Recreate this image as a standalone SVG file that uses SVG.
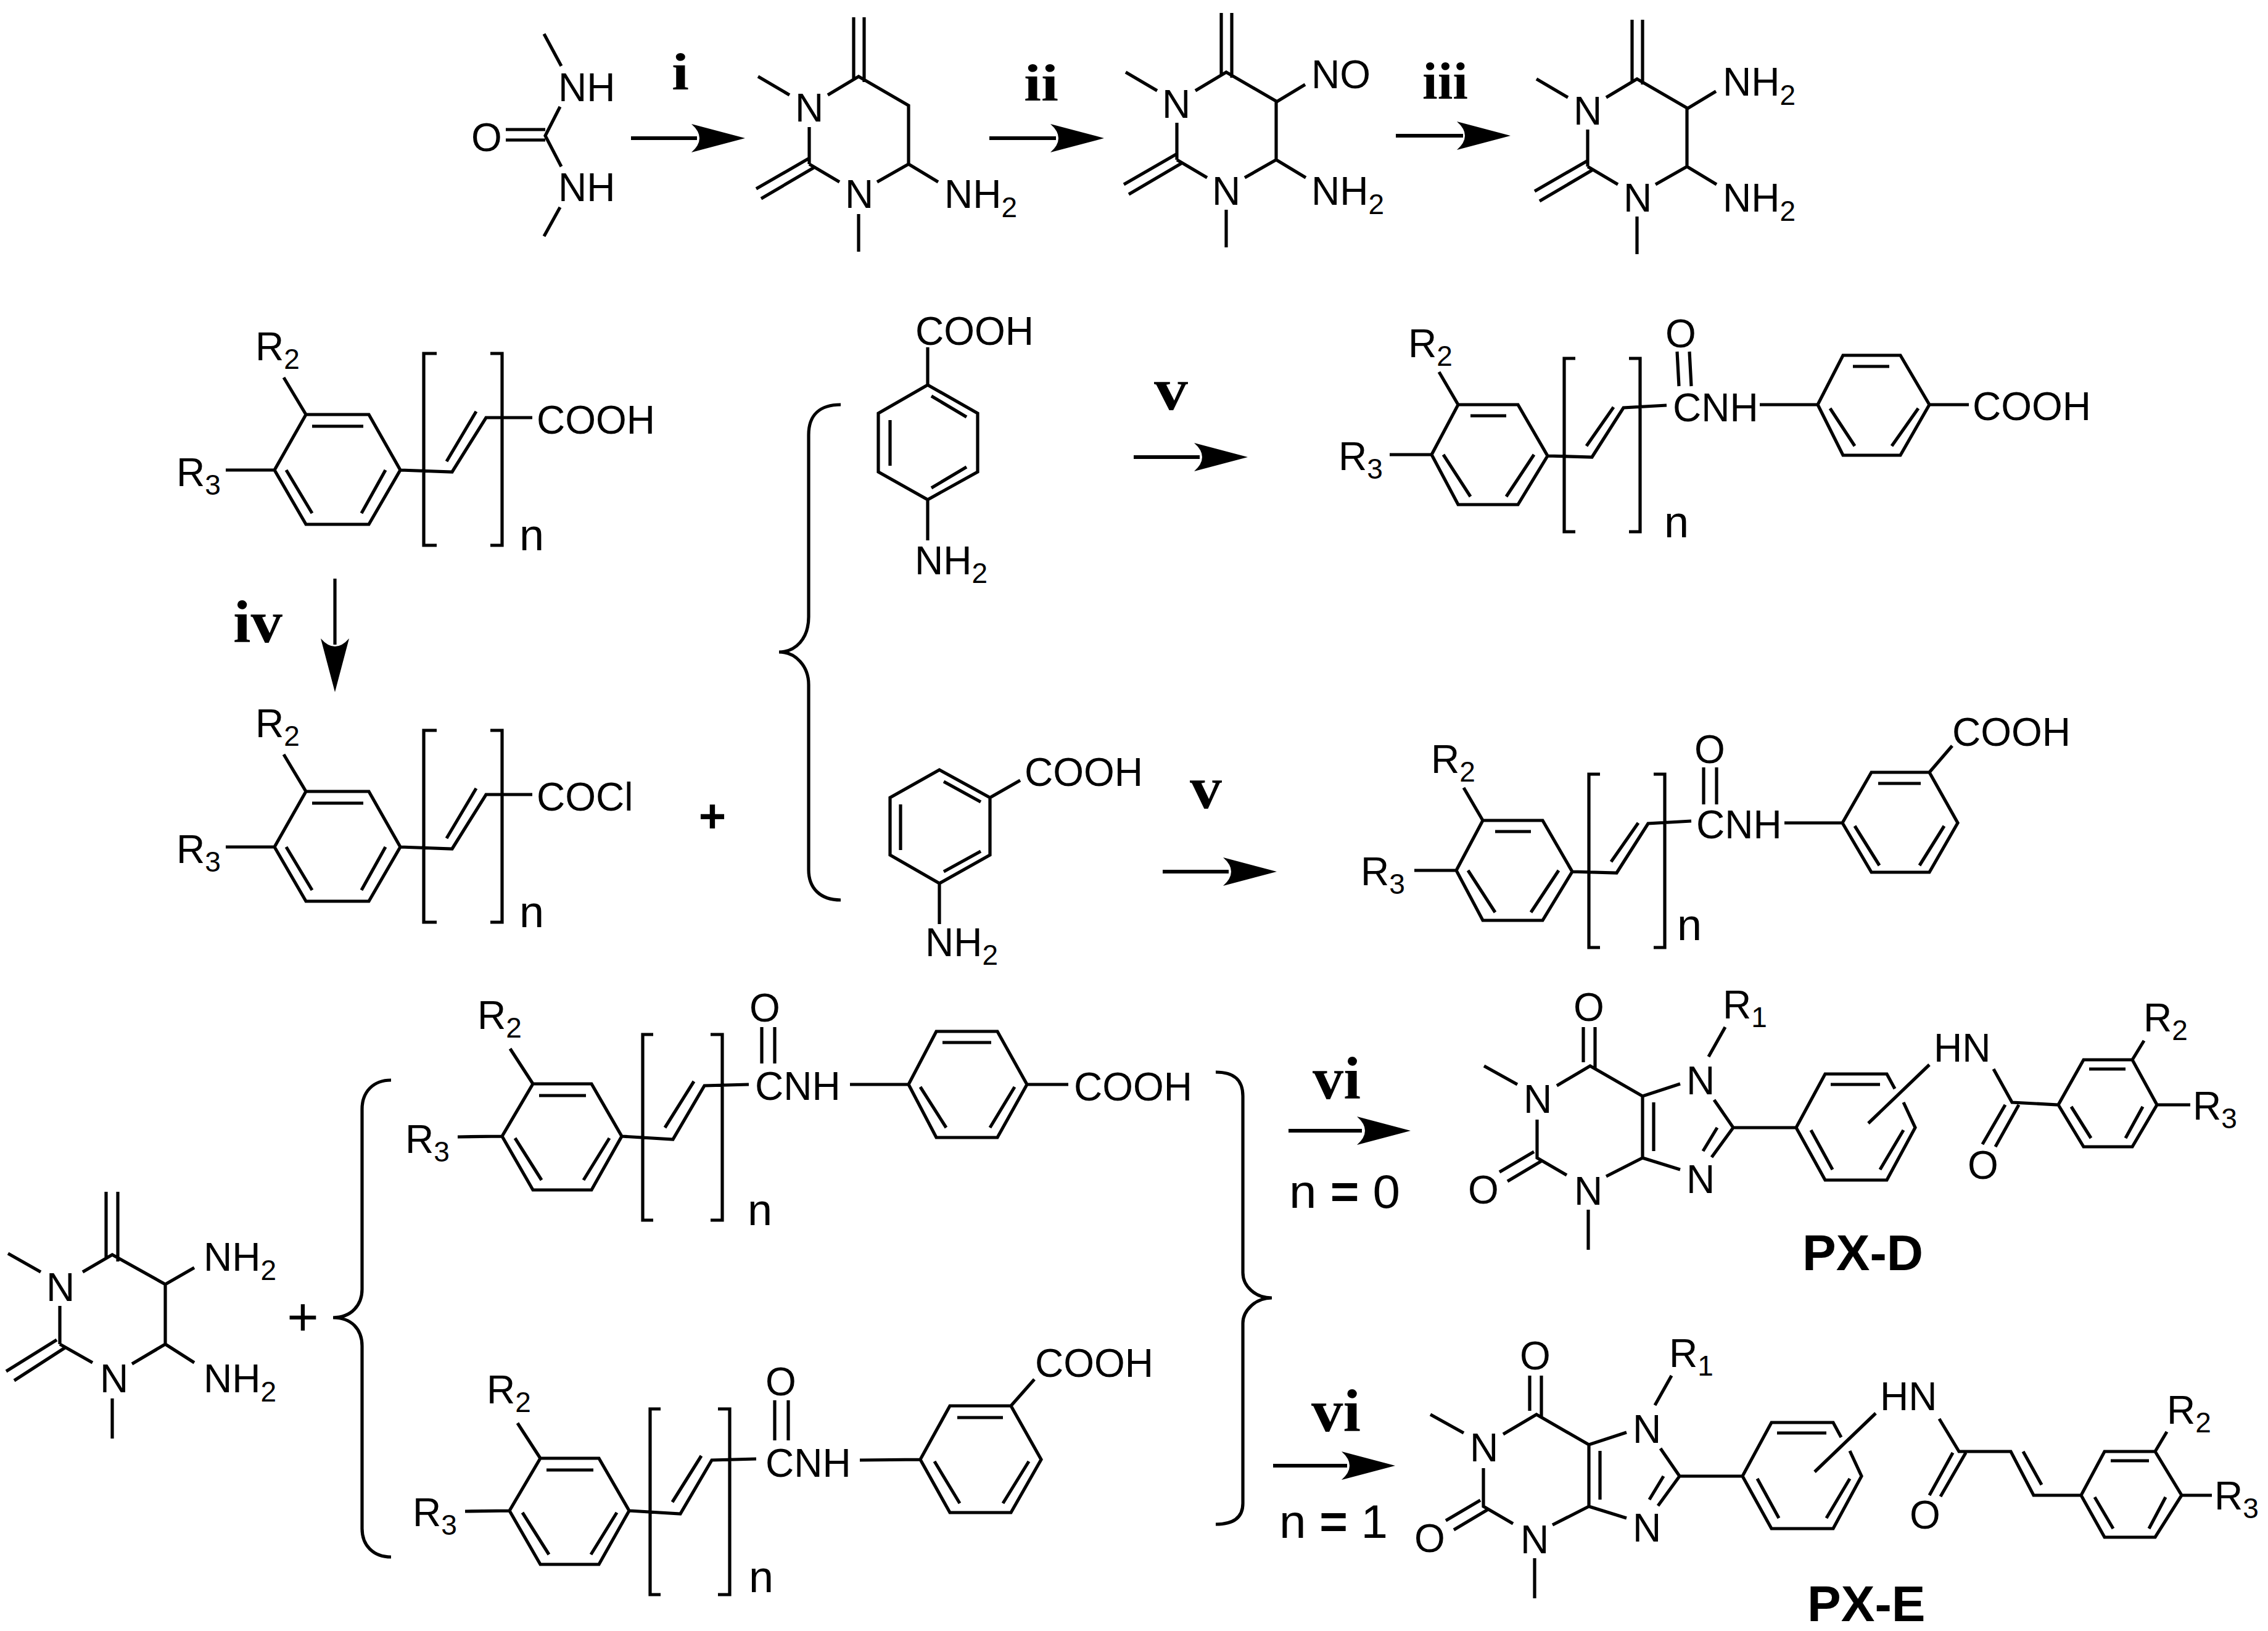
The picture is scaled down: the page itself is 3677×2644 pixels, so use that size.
<svg xmlns="http://www.w3.org/2000/svg" width="3677" height="2644" viewBox="0 0 3677 2644">
<style>
.b{fill:none;stroke:#000;stroke-width:5.2}
.sh{fill:none;stroke:#000;stroke-width:6}
.ah{fill:#000;stroke:none}
text{font-family:"Liberation Sans",Arial,sans-serif;font-size:64px;fill:#000}
.sub{font-size:46px}
.n{font-size:72px}
.nv{font-size:76px}
.r{font-family:"Liberation Serif","Times New Roman",serif;font-weight:bold;font-size:84px}
.rl{font-family:"Liberation Serif","Times New Roman",serif;font-weight:bold;font-size:98px}
.t{font-weight:bold;font-size:82px}
</style>
<defs>
<path id="ah" class="ah" d="M0 0L-87-23Q-61 0-87 23Z"/>
<path id="pyr" class="b" d="M1229 124L1280 154M1342 154L1392 124L1473 171V266L1422 295M1473 266L1521 295M1384 28V129M1401 28V133M1392 347V408M1312 266L1361 295M1312 206V266M1311 257L1226 306M1319 272L1234 322"/>
<path id="styrA" class="b" d="M496 672H598L649 762L598 850H496L445 762ZM506 691H589M464 762L506 832M625 762L586 832M460 612L496 672M366 762H445M649 762L733 765L788 677H863M724 748L772 667M708 573H687V884H708M795 573H814V884H795"/>
<path id="styrB" class="b" d="M2364 656H2461L2509 739L2461 818H2364L2321 737ZM2384 674H2442M2340 737L2384 805M2487 737L2442 805M2333 603L2364 656M2253 737H2321M2509 739L2581 741L2632 661L2702 657M2572 723L2616 660M2554 581H2536V862H2554M2641 581H2659V862H2641"/>
<path id="styrC" class="b" d="M864 1757H959L1008 1842L959 1929H864L814 1842ZM874 1776H950M835 1845L878 1913M988 1845L946 1913M827 1700L864 1757M742 1843L814 1842M1008 1842L1091 1847L1142 1760L1214 1758M1078 1828L1125 1753M1059 1677H1042V1978H1059M1152 1677H1171V1978H1152"/>
<path id="purine" class="b" d="M2406 1728L2460 1758M2524 1760L2578 1728L2663 1777L2724 1757M2567 1665V1722M2586 1665V1732M2797 1665L2770 1713M2779 1783L2810 1828L2775 1876M2784 1828L2761 1866M2724 1896L2663 1877V1777M2681 1787V1866M2663 1877L2604 1907M2540 1905L2492 1877V1815M2575 1961V2026M2487 1867L2431 1900M2501 1881L2444 1915M2810 1828H2912L2959 1741H3059L3072 1765M3086 1787L3105 1828L3059 1913H2959L2912 1828M2968 1758H3048M2936 1832L2971 1896M3086 1832L3048 1896M3128 1726L3029 1821"/>
</defs>

<g id="connectors">
<g id="arrow-i"><path class="sh" d="M1023 224H1130"/><use href="#ah" transform="translate(1208 224)"/></g>
<g id="arrow-ii"><path class="sh" d="M1604 224H1712"/><use href="#ah" transform="translate(1790 224)"/></g>
<g id="arrow-iii"><path class="sh" d="M2263 220H2372"/><use href="#ah" transform="translate(2449 220)"/></g>
<g id="arrow-iv"><path class="b" d="M543 938V1045"/><use href="#ah" transform="translate(543 1122) rotate(90)"/></g>
<g id="arrow-v1"><path class="sh" d="M1838 741H1945"/><use href="#ah" transform="translate(2023 741)"/></g>
<g id="arrow-v2"><path class="sh" d="M1885 1413H1992"/><use href="#ah" transform="translate(2070 1413)"/></g>
<g id="arrow-vi1"><path class="sh" d="M2089 1833H2208"/><use href="#ah" transform="translate(2287 1833)"/></g>
<g id="arrow-vi2"><path class="sh" d="M2064 2376H2184"/><use href="#ah" transform="translate(2262 2376)"/></g>
<path id="brace-1" class="b" d="M1363 656C1330 656 1311 672 1311 705V1000C1311 1035 1290 1057 1263 1057C1290 1057 1311 1080 1311 1110V1410C1311 1440 1330 1459 1363 1459"/>
<path id="brace-2" class="b" d="M634 1751C605 1751 587 1770 587 1798V2090C587 2115 570 2136 540 2136C570 2136 587 2155 587 2182V2478C587 2505 605 2524 634 2524"/>
<path id="brace-3" class="b" d="M1971 1738C2000 1738 2015 1750 2015 1777V2063C2015 2085 2035 2104 2062 2104C2035 2104 2015 2125 2015 2145V2437C2015 2460 2000 2471 1971 2471"/>
</g>

<g id="reaction-labels">
<text class="r" x="1089" y="145" textLength="28" lengthAdjust="spacingAndGlyphs">i</text>
<text class="r" x="1660" y="163" textLength="56" lengthAdjust="spacingAndGlyphs">ii</text>
<text class="r" x="2306" y="160" textLength="74" lengthAdjust="spacingAndGlyphs">iii</text>
<text class="rl" x="378" y="1041" textLength="80" lengthAdjust="spacingAndGlyphs">iv</text>
<text class="rl" x="1871" y="664" textLength="55" lengthAdjust="spacingAndGlyphs">v</text>
<text class="rl" x="1929" y="1310" textLength="52" lengthAdjust="spacingAndGlyphs">v</text>
<text class="rl" x="2128" y="1781" textLength="78" lengthAdjust="spacingAndGlyphs">vi</text>
<text class="rl" x="2126" y="2320" textLength="80" lengthAdjust="spacingAndGlyphs">vi</text>
<text class="nv" x="2090" y="1958" textLength="180" lengthAdjust="spacingAndGlyphs">n <tspan font-weight="bold">=</tspan> 0</text>
<text class="nv" x="2074" y="2493" textLength="176" lengthAdjust="spacingAndGlyphs">n <tspan font-weight="bold">=</tspan> 1</text>
<text x="1155" y="1349" text-anchor="middle" style="font-size:76px;font-weight:bold">+</text>
<text x="491" y="2165" text-anchor="middle" style="font-size:88px">+</text>
</g>

<g id="urea">
<path class="b" d="M882 55L910 107M908 173L884 220L910 270M908 336L882 383M820 210H884M820 227H884"/>
<text x="905" y="164">NH</text><text x="905" y="326">NH</text><text x="764" y="245">O</text>
</g>

<g id="pyrimidine-1">
<use href="#pyr"/>
<text x="1289" y="197">N</text><text x="1370" y="337">N</text>
<text x="1531" y="337">NH<tspan class="sub" dy="15">2</tspan></text>
</g>

<g id="pyrimidine-2">
<use href="#pyr" transform="translate(596 -7)"/>
<path class="b" d="M2068 166L2116 137"/>
<text x="1884" y="191">N</text><text x="1965" y="332">N</text>
<text x="2126" y="143">NO</text>
<text x="2126" y="332">NH<tspan class="sub" dy="15">2</tspan></text>
</g>

<g id="pyrimidine-3">
<use href="#pyr" transform="translate(1262 4)"/>
<path class="b" d="M2734 177L2782 148"/>
<text x="2551" y="202">N</text><text x="2632" y="343">N</text>
<text x="2793" y="155">NH<tspan class="sub" dy="15">2</tspan></text>
<text x="2793" y="343">NH<tspan class="sub" dy="15">2</tspan></text>
</g>

<g id="cinnamic-acid">
<use href="#styrA"/>
<text x="414" y="584">R<tspan class="sub" dy="14">2</tspan></text>
<text x="286" y="788">R<tspan class="sub" dy="14">3</tspan></text>
<text class="n" x="842" y="892">n</text>
<text x="870" y="703">COOH</text>
</g>

<g id="cinnamoyl-chloride">
<use href="#styrA" transform="translate(0 611)"/>
<text x="414" y="1195">R<tspan class="sub" dy="14">2</tspan></text>
<text x="286" y="1399">R<tspan class="sub" dy="14">3</tspan></text>
<text class="n" x="842" y="1503">n</text>
<text x="870" y="1314">COCl</text>
</g>

<g id="aminobenzoic-4">
<path class="b" d="M1504 624L1585 670V765L1504 810L1424 765V670ZM1510 642L1567 676M1443 681V755M1510 791L1567 757M1504 624V563M1504 810V876"/>
<text x="1484" y="559">COOH</text>
<text x="1483" y="931">NH<tspan class="sub" dy="14">2</tspan></text>
</g>

<g id="aminobenzoic-3">
<path class="b" d="M1523 1248L1605 1293V1386L1523 1432L1443 1386V1293ZM1530 1267L1590 1300M1460 1304V1378M1530 1413L1590 1380M1605 1293L1654 1265M1523 1432V1498"/>
<text x="1661" y="1274">COOH</text>
<text x="1500" y="1550">NH<tspan class="sub" dy="14">2</tspan></text>
</g>

<g id="amide-para">
<use href="#styrB"/>
<path class="b" d="M2719 570L2722 626M2739 570L2742 626M2853 656H2947L2988 576H3081L3128 656L3081 738H2988L2947 656M3004 594H3063M2967 662L3007 723M3110 662L3067 723M3128 656H3192"/>
<text x="2283" y="579">R<tspan class="sub" dy="14">2</tspan></text>
<text x="2170" y="762">R<tspan class="sub" dy="14">3</tspan></text>
<text class="n" x="2698" y="871">n</text>
<text x="2700" y="563">O</text><text x="2712" y="683">CNH</text>
<text x="3198" y="681">COOH</text>
</g>

<g id="amide-meta">
<use href="#styrB" transform="translate(40 674)"/>
<path class="b" d="M2762 1244V1304M2783 1244V1304M2893 1334H2987L3034 1252H3128L3174 1334L3128 1414H3034L2987 1334M3045 1270H3114M3007 1339L3047 1403M3152 1339L3112 1403M3128 1252L3165 1209"/>
<text x="2320" y="1253">R<tspan class="sub" dy="14">2</tspan></text>
<text x="2206" y="1435">R<tspan class="sub" dy="14">3</tspan></text>
<text class="n" x="2719" y="1524">n</text>
<text x="2747" y="1237">O</text><text x="2750" y="1359">CNH</text>
<text x="3165" y="1209">COOH</text>
</g>

<g id="diamine">
<path class="b" d="M13 2032L66 2062M134 2062L182 2034L268 2082L315 2055M172 1932V2040M191 1932V2045M268 2082V2179L214 2211M268 2179L315 2209M182 2267V2332M97 2179L150 2209M97 2117V2179M92 2172L10 2223M105 2185L23 2238"/>
<text x="75" y="2109">N</text><text x="162" y="2257">N</text>
<text x="330" y="2060">NH<tspan class="sub" dy="15">2</tspan></text>
<text x="330" y="2257">NH<tspan class="sub" dy="15">2</tspan></text>
</g>

<g id="acid-para">
<use href="#styrC"/>
<path class="b" d="M1235 1665V1724M1256 1665V1724M1378 1758H1473L1518 1672H1617L1665 1758L1617 1844H1518L1473 1758M1528 1690H1607M1492 1762L1534 1828M1645 1762L1605 1828M1665 1758H1732"/>
<text x="774" y="1668">R<tspan class="sub" dy="14">2</tspan></text>
<text x="657" y="1869">R<tspan class="sub" dy="14">3</tspan></text>
<text class="n" x="1212" y="1986">n</text>
<text x="1215" y="1656">O</text><text x="1224" y="1783">CNH</text>
<text x="1741" y="1784">COOH</text>
</g>

<g id="acid-meta">
<use href="#styrC" transform="translate(12 607)"/>
<path class="b" d="M1256 2270V2335M1278 2270V2335M1394 2367L1492 2366L1540 2279H1639L1688 2366L1639 2452H1540L1492 2366M1552 2298H1626M1515 2369L1556 2437M1668 2369L1626 2437M1639 2279L1677 2236"/>
<text x="789" y="2275">R<tspan class="sub" dy="14">2</tspan></text>
<text x="669" y="2474">R<tspan class="sub" dy="14">3</tspan></text>
<text class="n" x="1214" y="2581">n</text>
<text x="1241" y="2262">O</text><text x="1241" y="2394">CNH</text>
<text x="1678" y="2232">COOH</text>
</g>

<g id="PX-D">
<use href="#purine"/>
<path class="b" d="M3232 1733L3262 1787L3337 1791L3378 1718H3457L3497 1791L3457 1859H3378L3337 1791M3251 1791L3214 1855M3273 1791L3235 1859M3387 1733H3446M3358 1794L3390 1845M3474 1794L3446 1845M3476 1687L3457 1718M3497 1791H3551"/>
<text x="2470" y="1804">N</text><text x="2551" y="1655">O</text><text x="2734" y="1774">N</text>
<text x="2793" y="1651">R<tspan class="sub" dy="14">1</tspan></text>
<text x="2734" y="1934">N</text><text x="2552" y="1953">N</text><text x="2380" y="1951">O</text>
<text x="3135" y="1721">HN</text><text x="3190" y="1911">O</text>
<text x="3475" y="1672">R<tspan class="sub" dy="14">2</tspan></text>
<text x="3555" y="1815">R<tspan class="sub" dy="14">3</tspan></text>
<text class="t" x="2922" y="2059">PX-D</text>
</g>

<g id="PX-E">
<use href="#purine" transform="translate(-87 565)"/>
<path class="b" d="M3144 2300L3176 2353H3260L3297 2424H3374L3412 2353H3494L3537 2424L3494 2492H3412L3374 2424M3280 2353L3310 2407M3166 2355L3128 2424M3187 2355L3146 2426M3422 2368H3484M3396 2427L3426 2478M3511 2427L3484 2478M3513 2321L3494 2353M3537 2424H3586"/>
<text x="2383" y="2369">N</text><text x="2464" y="2220">O</text><text x="2647" y="2339">N</text>
<text x="2706" y="2216">R<tspan class="sub" dy="14">1</tspan></text>
<text x="2647" y="2499">N</text><text x="2465" y="2518">N</text><text x="2293" y="2516">O</text>
<text x="3048" y="2286">HN</text><text x="3096" y="2478">O</text>
<text x="3513" y="2308">R<tspan class="sub" dy="14">2</tspan></text>
<text x="3590" y="2447">R<tspan class="sub" dy="14">3</tspan></text>
<text class="t" x="2930" y="2628">PX-E</text>
</g>
</svg>
